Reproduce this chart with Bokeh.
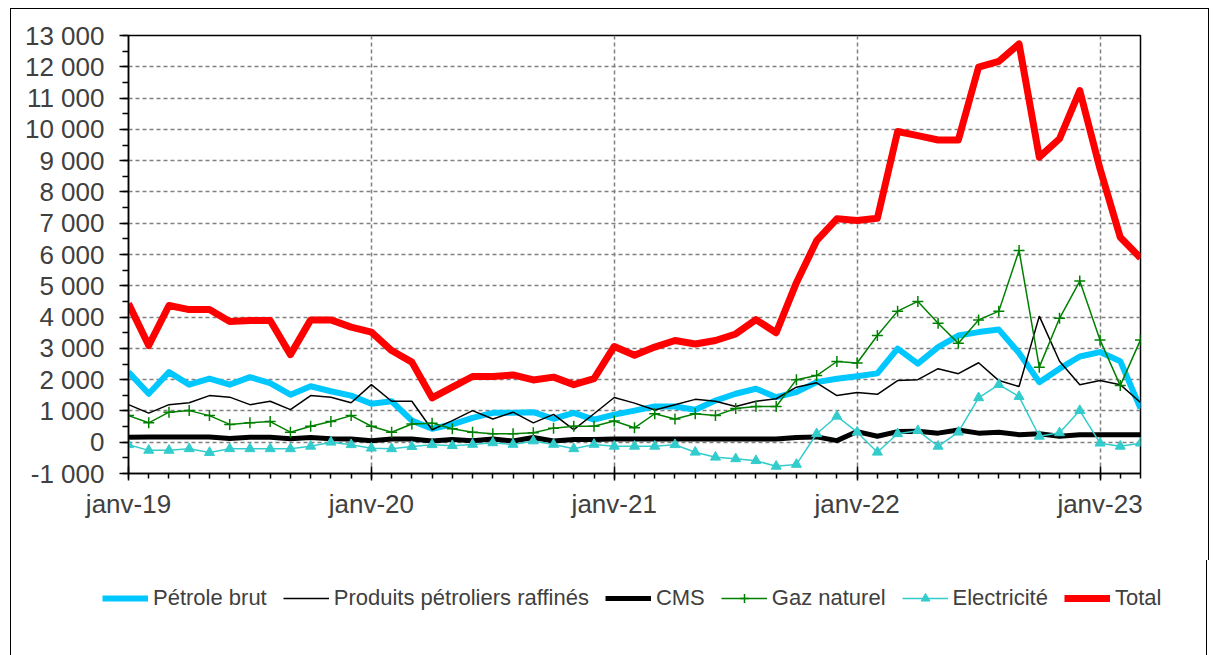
from bokeh.plotting import figure
from bokeh.models import FixedTicker, Legend, LegendItem, Range1d
from bokeh.embed import file_html
from bokeh.resources import INLINE

# Monthly data, janv-19 .. mars-23 (M€ courants)
petrole = [2240, 1550, 2240, 1840, 2030, 1840, 2080, 1890, 1520, 1790, 1630, 1490,
           1230, 1310, 690, 430, 570, 780, 940, 940, 960, 750, 940, 720,
           880, 1010, 1140, 1140, 1040, 1330, 1550, 1710, 1440, 1600, 1920, 2030,
           2110, 2200, 2990, 2510, 3040, 3410, 3520, 3600, 2850, 1920, 2350, 2740,
           2880, 2590, 1080]
produits = [1200, 930, 1200, 1260, 1490, 1440, 1200, 1310, 1040, 1490, 1440, 1260,
            1840, 1310, 1310, 400, 690, 1010, 740, 960, 620, 890, 400, 910,
            1430, 1250, 1030, 1200, 1370, 1310, 1140, 1310, 1390, 1760, 1900, 1490,
            1590, 1530, 1970, 2000, 2350, 2190, 2540, 1970, 1780, 4030, 2590, 1840,
            1970, 1840, 1270]
cms = [160, 170, 170, 170, 170, 120, 160, 160, 110, 150, 110, 100,
       50, 100, 100, 40, 90, 50, 100, 40, 150, 40, 90, 90,
       100, 100, 100, 100, 100, 100, 100, 100, 100, 150, 170, 50,
       340, 190, 340, 350, 290, 390, 290, 320, 240, 270, 190, 240,
       240, 240, 240]
gaz = [850, 620, 960, 1010, 850, 570, 620, 660, 320, 510, 660, 850,
       510, 320, 580, 610, 430, 320, 270, 270, 300, 450, 510, 510,
       680, 460, 910, 740, 910, 850, 1080, 1140, 1140, 2000, 2130, 2580,
       2530, 3410, 4190, 4500, 3800, 3160, 3910, 4190, 6130, 2400, 3960, 5150,
       3270, 1810, 3270]
elec = [-80, -260, -260, -210, -330, -210, -210, -210, -210, -130, 0, -80,
        -190, -210, -140, -80, -110, -70, -20, -70, 40, -70, -210, -70,
        -130, -130, -130, -80, -320, -480, -530, -590, -770, -710, 270, 830,
        320, -320, 270, 370, -130, 320, 1420, 1840, 1460, 190, 300, 1010,
        -30, -130, -30]
total = [4430, 3090, 4370, 4240, 4240, 3860, 3890, 3890, 2800, 3910, 3910, 3680,
         3520, 2930, 2560, 1420, 1760, 2100, 2100, 2150, 1990, 2080, 1840, 2030,
         3060, 2780, 3040, 3250, 3140, 3250, 3460, 3920, 3500, 5100, 6440, 7140,
         7090, 7160, 9930, 9800, 9660, 9660, 11990, 12170, 12730, 9110, 9700, 11240,
         8740, 6550, 5890]

x_tick_pos = [0, 12, 24, 36, 48]
x_tick_labels = ["janv-19", "janv-20", "janv-21", "janv-22", "janv-23"]
y_ticks = list(range(-1000, 13001, 1000))
y_tick_labels = ["-1 000", "0", "1 000", "2 000", "3 000", "4 000", "5 000", "6 000",
                 "7 000", "8 000", "9 000", "10 000", "11 000", "12 000", "13 000"]
series_names = ["Pétrole brut", "Produits pétroliers raffinés", "CMS",
                "Gaz naturel", "Electricité", "Total"]

x = list(range(len(total)))
FONT = "Liberation Sans"
TXT = "#404040"
W = 1197

p = figure(width=W, height=551, frame_width=1012, frame_height=438,
           output_backend="svg", toolbar_location=None,
           x_range=Range1d(0, len(total) - 1), y_range=Range1d(-1000, 13000),
           min_border_left=117, min_border_right=68, min_border_top=26,
           min_border_bottom=87)
p.styles = {"border-left": "1px solid black", "border-top": "1px solid black",
            "border-right": "1px solid black", "margin-left": "10px",
            "margin-top": "8px"}
p.background_fill_color = "white"
p.border_fill_color = "white"
p.outline_line_color = "black"
p.outline_line_width = 1.5

# axes
p.xaxis.ticker = FixedTicker(ticks=x_tick_pos, minor_ticks=x)
p.xaxis.major_label_overrides = {k: v for k, v in zip(x_tick_pos, x_tick_labels)}
p.yaxis.ticker = FixedTicker(ticks=y_ticks, minor_ticks=list(range(-1000, 13001, 500)))
p.yaxis.major_label_overrides = {k: v for k, v in zip(y_ticks, y_tick_labels)}
for ax in (p.xaxis[0], p.yaxis[0]):
    ax.axis_line_color = "black"
    ax.axis_line_width = 1.5
    ax.major_tick_line_color = "black"
    ax.minor_tick_line_color = "black"
    ax.major_tick_line_width = 1.5
    ax.minor_tick_line_width = 1.5
    ax.major_label_text_font = FONT
    ax.major_label_text_font_size = "26px"
    ax.major_label_text_color = TXT
p.xaxis.major_tick_in = 7
p.xaxis.major_tick_out = 7
p.xaxis.minor_tick_in = 0
p.xaxis.minor_tick_out = 5
p.xaxis.major_label_standoff = 8
p.yaxis.major_tick_in = 0
p.yaxis.major_tick_out = 9
p.yaxis.minor_tick_in = 0
p.yaxis.minor_tick_out = 6
p.yaxis.major_label_standoff = 15

# grids
for g in (p.xgrid[0], p.ygrid[0]):
    g.grid_line_color = "#808080"
    g.grid_line_dash = "4 3"
    g.grid_line_width = 1.5

styles = [
    dict(line_color="#00C8FF", line_width=6, line_join="round"),
    dict(line_color="black", line_width=1.5),
    dict(line_color="black", line_width=5, line_join="round"),
    dict(line_color="#008000", line_width=1.5),
    dict(line_color="#33CCCC", line_width=1.5),
    dict(line_color="#FF0000", line_width=7, line_join="round"),
]
markers = {3: dict(marker="cross", size=11, line_color="#008000", line_width=1.5),
           4: dict(marker="triangle", size=10, fill_color="#33CCCC", line_color="#33CCCC")}

data = [petrole, produits, cms, gaz, elec, total]
for i, ys in enumerate(data):
    p.line(x, ys, **styles[i])
    if i in markers:
        p.scatter(x, ys, **markers[i])

# legend strip below the chart (its series lie outside its view, only the key shows)
lg = figure(width=W, height=95, output_backend="svg", toolbar_location=None,
            x_range=Range1d(0, len(total) - 1), y_range=Range1d(20000, 30000),
            x_axis_type=None, y_axis_type=None, min_border=0)
lg.styles = {"border-left": "1px solid black", "border-right": "1px solid black",
             "margin-left": "10px"}
lg.outline_line_color = None
lg.grid.visible = False
lg.background_fill_color = "white"
lg.border_fill_color = "white"
items = []
for i, ys in enumerate(data):
    rs = [lg.line(x, ys, **styles[i])]
    if i in markers:
        rs.append(lg.scatter(x, ys, **markers[i]))
    items.append(LegendItem(label=series_names[i], renderers=rs))
legend = Legend(items=items, orientation="horizontal", location=(91, 44),
                glyph_width=46, glyph_height=22, label_height=22, label_standoff=5,
                spacing=16, padding=0, margin=0, border_line_color=None,
                background_fill_alpha=0, label_text_font=FONT,
                label_text_font_size="22px", label_text_color=TXT)
lg.add_layout(legend)

open("out.html", "w").write(file_html([p, lg], INLINE))
